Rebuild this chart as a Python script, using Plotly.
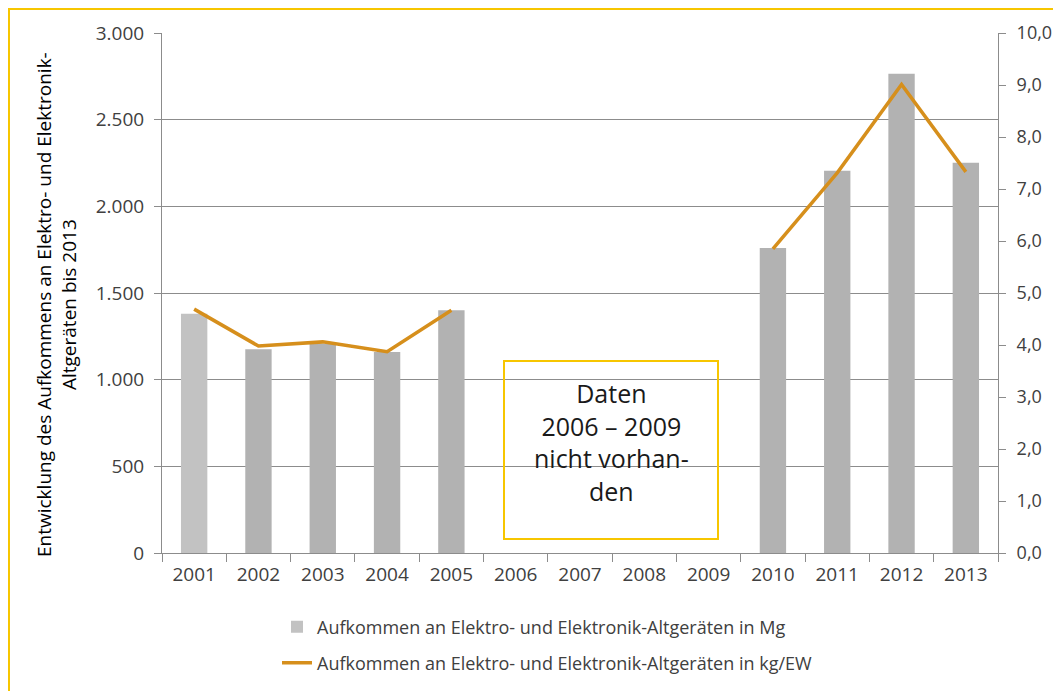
import plotly.graph_objects as go

# ---- data ----
years = [str(y) for y in range(2001, 2014)]
mg_values = [1380, 1175, 1208, 1160, 1400, None, None, None, None, 1760, 2205, 2765, 2252]
kg_ew_values = [4.69, 3.98, 4.06, 3.87, 4.67, None, None, None, None, 5.85, 7.31, 9.01, 7.33]
bar_colors = ["#c2c2c2"] + ["#b2b2b2"] * 12

name_mg = "Aufkommen an Elektro- und Elektronik-Altgeräten in Mg"
name_kg = "Aufkommen an Elektro- und Elektronik-Altgeräten in kg/EW"
y_title = "Entwicklung des Aufkommens an Elektro- und Elektronik-<br>Altgeräten bis 2013"
note_text = "Daten<br>2006 – 2009<br>nicht vorhan-<br>den"

FONT = "Open Sans, sans-serif"
TICK_COL = "#404040"
GRID = "#8c8c8c"
YELLOW = "#f7c600"
ORANGE = "#d68f1c"

W, H = 1061, 691
OFF = 8  # page body margin
L, R, T, B = 162, 998, 33, 553  # plot area in screenshot pixels

def px(x):
    return (x - L) / (R - L)

def py(y):
    return (B - y) / (B - T)

fig = go.Figure()
fig.add_trace(go.Bar(
    x=years, y=mg_values, name=name_mg, marker=dict(color=bar_colors, line=dict(width=0)),
    width=0.41, legend="legend", yaxis="y"))
fig.add_trace(go.Scatter(
    x=years, y=kg_ew_values, name=name_kg, mode="lines", connectgaps=False,
    line=dict(color=ORANGE, width=3.5), legend="legend2", yaxis="y2"))

axis_common = dict(showline=True, linecolor=GRID, linewidth=1, ticks="outside",
                   tickcolor=GRID, ticklen=7)

fig.update_layout(
    width=W, height=H,
    margin=dict(l=L - OFF, r=W - (R - OFF), t=T - OFF, b=H - (B - OFF), autoexpand=False),
    paper_bgcolor="white", plot_bgcolor="white",
    font=dict(family=FONT, color=TICK_COL),
    separators=",.",
    showlegend=True,
    xaxis=dict(type="category", tickson="boundaries", ticklen=8, showgrid=False,
               showline=True, linecolor=GRID, ticks="outside", tickcolor=GRID,
               ticklabelstandoff=4,
               tickfont=dict(family=FONT, size=19, color=TICK_COL)),
    yaxis=dict(range=[0, 3000], dtick=500, separatethousands=True, showgrid=True,
               gridcolor=GRID, gridwidth=1, zeroline=False, ticklabelstandoff=6,
               tickfont=dict(family=FONT, size=19, color=TICK_COL), **axis_common),
    yaxis2=dict(range=[0, 10], dtick=1, tickformat=".1f", overlaying="y", side="right",
                showgrid=False, zeroline=False, ticklabelstandoff=7,
                tickfont=dict(family=FONT, size=18, color=TICK_COL), **axis_common),
    legend=dict(x=px(277), y=py(627), xanchor="left", yanchor="middle",
                font=dict(family=FONT, size=18, color=TICK_COL), bgcolor="rgba(0,0,0,0)"),
    legend2=dict(x=px(277), y=py(663), xanchor="left", yanchor="middle",
                 font=dict(family=FONT, size=18, color=TICK_COL), bgcolor="rgba(0,0,0,0)"),
)

# outer frame (only top/left visible in the picture)
fig.add_shape(type="rect", xref="paper", yref="paper",
              x0=px(9), x1=px(1100), y0=py(730), y1=py(9),
              line=dict(color=YELLOW, width=2), fillcolor="rgba(0,0,0,0)", layer="above")
# note box
fig.add_shape(type="rect", xref="paper", yref="paper",
              x0=px(504), x1=px(718), y0=py(539), y1=py(361),
              line=dict(color=YELLOW, width=2), fillcolor="rgba(0,0,0,0)", layer="above")
fig.add_annotation(xref="paper", yref="paper", x=px(611), y=py(442), text=note_text,
                   showarrow=False, xanchor="center", yanchor="middle", align="center",
                   font=dict(family=FONT, size=25, color="#1a1a1a"))
# y-axis title
fig.add_annotation(xref="paper", yref="paper", x=px(57), y=py(305), text=y_title,
                   showarrow=False, textangle=-90, xanchor="center", yanchor="middle",
                   align="center", font=dict(family=FONT, size=19, color="#000000"))

fig.write_html("out.html")
